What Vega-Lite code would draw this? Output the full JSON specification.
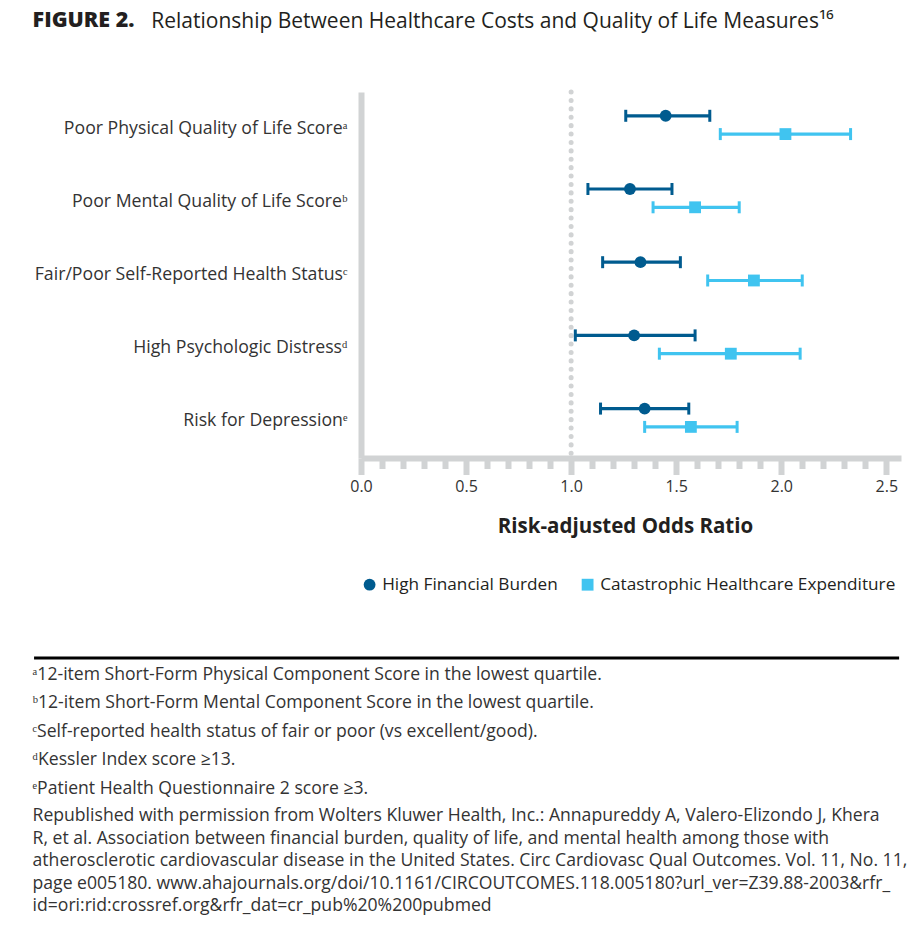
{
  "$schema": "https://vega.github.io/schema/vega-lite/v6.json",
  "background": "white",
  "padding": {"left": 32, "right": 5, "top": 10, "bottom": 5},
  "title": {"text": "FIGURE 2.", "anchor": "start", "frame": "bounds", "fontSize": 21.5, "fontWeight": 800, "color": "#231f20", "font": "Open Sans", "dy": 25},
  "spacing": 63,
  "resolve": {"legend": {"color": "independent", "shape": "independent"}},
  "vconcat": [
    {
      "width": 540,
      "height": 366,
      "title": {"text": "Relationship Between Healthcare Costs and Quality of Life Measures¹⁶", "anchor": "start", "frame": "bounds", "dx": 117, "fontSize": 21, "fontWeight": "normal", "color": "#231f20", "offset": 58, "limit": 900},
      "layer": [
        {
          "data": {"values": [{}]},
          "mark": {"type": "rule", "color": "#d1d3d4", "strokeWidth": 5, "strokeCap": "round", "strokeDash": [0.1, 8.3]},
          "encoding": {"x": {"datum": 1, "type": "quantitative", "title": "Risk-adjusted Odds Ratio",
            "scale": {"domain": [0, 2.57], "nice": false, "zero": false},
            "axis": {
              "values": [0,0.1,0.2,0.3,0.4,0.5,0.6,0.7,0.8,0.9,1,1.1,1.2,1.3,1.4,1.5,1.6,1.7,1.8,1.9,2,2.1,2.2,2.3,2.4,2.5], "tickCount": 26,
              "labelExpr": "abs(round(datum.value*2)-datum.value*2)<0.001 ? format(datum.value,'.1f') : ''",
              "labelOverlap": false, "labelFlush": false, "grid": false,
              "domainColor": "#d1d3d4", "domainWidth": 6,
              "tickColor": "#d1d3d4", "tickWidth": 6,
              "tickSize": {"condition": {"test": "abs(round(datum.value*2)-datum.value*2)<0.001", "value": 16.5}, "value": 10.5},
              "labelPadding": 4, "labelFontSize": 16, "labelColor": "#333333",
              "titleFontSize": 20.5, "titleFontWeight": "bold", "titleColor": "#231f20", "titlePadding": 22, "titleX": 264
            }}}
        },
        {
          "data": {"name": "est"},
          "layer": [
            {
              "mark": {"type": "rule", "strokeWidth": 3.2},
              "encoding": {
                "x": {"field": "lo", "type": "quantitative", "title": "Risk-adjusted Odds Ratio",
                  "scale": {"domain": [0, 2.57], "nice": false, "zero": false},
                  "axis": {
                    "values": [0,0.1,0.2,0.3,0.4,0.5,0.6,0.7,0.8,0.9,1,1.1,1.2,1.3,1.4,1.5,1.6,1.7,1.8,1.9,2,2.1,2.2,2.3,2.4,2.5], "tickCount": 26,
                    "labelExpr": "abs(round(datum.value*2)-datum.value*2)<0.001 ? format(datum.value,'.1f') : ''",
                    "labelOverlap": false, "labelFlush": false, "grid": false,
                    "domainColor": "#d1d3d4", "domainWidth": 6,
                    "tickColor": "#d1d3d4", "tickWidth": 6,
                    "tickSize": {"condition": {"test": "abs(round(datum.value*2)-datum.value*2)<0.001", "value": 16.5}, "value": 10.5},
                    "labelPadding": 4, "labelFontSize": 16, "labelColor": "#333333",
                    "titleFontSize": 20.5, "titleFontWeight": "bold", "titleColor": "#231f20", "titlePadding": 22, "titleX": 264
                  }},
                "x2": {"field": "hi"},
                "y": {"field": "measure", "type": "nominal", "title": null,
                  "sort": ["Poor Physical Quality of Life Scoreᵃ", "Poor Mental Quality of Life Scoreᵇ", "Fair/Poor Self-Reported Health Statusᶜ", "High Psychologic Distressᵈ", "Risk for Depressionᵉ"],
                  "scale": {"type": "band", "paddingInner": 0, "paddingOuter": 0},
                  "axis": {"domainColor": "#d1d3d4", "domainWidth": 6, "ticks": false, "tickSize": 0, "labelPadding": 14, "labelFontSize": 17.7, "labelColor": "#333333", "labelLimit": 400}},
                "yOffset": {"field": "series", "type": "nominal", "sort": ["High Financial Burden", "Catastrophic Healthcare Expenditure"], "scale": {"paddingInner": 0, "paddingOuter": 1.033, "align": 0.4}},
                "color": {"field": "series", "type": "nominal", "title": null, "sort": ["High Financial Burden", "Catastrophic Healthcare Expenditure"],
                  "scale": {"domain": ["High Financial Burden", "Catastrophic Healthcare Expenditure"], "range": ["#005b8f", "#40c4f0"]},
                  "legend": {"orient": "bottom", "direction": "horizontal", "title": null, "labelFontSize": 17.2, "labelColor": "#231f20", "labelLimit": 400, "symbolSize": 140, "columnPadding": 21, "labelOffset": 4, "offset": 39, "symbolOpacity": 1, "symbolStrokeWidth": 0}}
              }
            },
            {
              "mark": {"type": "tick", "orient": "vertical", "size": 12, "thickness": 3, "opacity": 1},
              "encoding": {
                "x": {"field": "lo", "type": "quantitative", "title": "Risk-adjusted Odds Ratio",
                  "axis": {
                    "values": [0,0.1,0.2,0.3,0.4,0.5,0.6,0.7,0.8,0.9,1,1.1,1.2,1.3,1.4,1.5,1.6,1.7,1.8,1.9,2,2.1,2.2,2.3,2.4,2.5], "tickCount": 26,
                    "labelExpr": "abs(round(datum.value*2)-datum.value*2)<0.001 ? format(datum.value,'.1f') : ''",
                    "labelOverlap": false, "labelFlush": false, "grid": false,
                    "domainColor": "#d1d3d4", "domainWidth": 6,
                    "tickColor": "#d1d3d4", "tickWidth": 6,
                    "tickSize": {"condition": {"test": "abs(round(datum.value*2)-datum.value*2)<0.001", "value": 16.5}, "value": 10.5},
                    "labelPadding": 4, "labelFontSize": 16, "labelColor": "#333333",
                    "titleFontSize": 20.5, "titleFontWeight": "bold", "titleColor": "#231f20", "titlePadding": 22, "titleX": 264
                  }},
                "y": {"field": "measure", "type": "nominal", "title": null,
                  "sort": ["Poor Physical Quality of Life Scoreᵃ", "Poor Mental Quality of Life Scoreᵇ", "Fair/Poor Self-Reported Health Statusᶜ", "High Psychologic Distressᵈ", "Risk for Depressionᵉ"]},
                "yOffset": {"field": "series", "type": "nominal", "sort": ["High Financial Burden", "Catastrophic Healthcare Expenditure"]},
                "color": {"field": "series", "type": "nominal", "title": null, "sort": ["High Financial Burden", "Catastrophic Healthcare Expenditure"]}
              }
            },
            {
              "mark": {"type": "tick", "orient": "vertical", "size": 12, "thickness": 3, "opacity": 1},
              "encoding": {
                "x": {"field": "hi", "type": "quantitative", "title": "Risk-adjusted Odds Ratio",
                  "axis": {
                    "values": [0,0.1,0.2,0.3,0.4,0.5,0.6,0.7,0.8,0.9,1,1.1,1.2,1.3,1.4,1.5,1.6,1.7,1.8,1.9,2,2.1,2.2,2.3,2.4,2.5], "tickCount": 26,
                    "labelExpr": "abs(round(datum.value*2)-datum.value*2)<0.001 ? format(datum.value,'.1f') : ''",
                    "labelOverlap": false, "labelFlush": false, "grid": false,
                    "domainColor": "#d1d3d4", "domainWidth": 6,
                    "tickColor": "#d1d3d4", "tickWidth": 6,
                    "tickSize": {"condition": {"test": "abs(round(datum.value*2)-datum.value*2)<0.001", "value": 16.5}, "value": 10.5},
                    "labelPadding": 4, "labelFontSize": 16, "labelColor": "#333333",
                    "titleFontSize": 20.5, "titleFontWeight": "bold", "titleColor": "#231f20", "titlePadding": 22, "titleX": 264
                  }},
                "y": {"field": "measure", "type": "nominal", "title": null,
                  "sort": ["Poor Physical Quality of Life Scoreᵃ", "Poor Mental Quality of Life Scoreᵇ", "Fair/Poor Self-Reported Health Statusᶜ", "High Psychologic Distressᵈ", "Risk for Depressionᵉ"]},
                "yOffset": {"field": "series", "type": "nominal", "sort": ["High Financial Burden", "Catastrophic Healthcare Expenditure"]},
                "color": {"field": "series", "type": "nominal", "title": null, "sort": ["High Financial Burden", "Catastrophic Healthcare Expenditure"]}
              }
            },
            {
              "mark": {"type": "point", "filled": true, "opacity": 1, "size": 140},
              "encoding": {
                "x": {"field": "or", "type": "quantitative", "title": "Risk-adjusted Odds Ratio",
                  "axis": {
                    "values": [0,0.1,0.2,0.3,0.4,0.5,0.6,0.7,0.8,0.9,1,1.1,1.2,1.3,1.4,1.5,1.6,1.7,1.8,1.9,2,2.1,2.2,2.3,2.4,2.5], "tickCount": 26,
                    "labelExpr": "abs(round(datum.value*2)-datum.value*2)<0.001 ? format(datum.value,'.1f') : ''",
                    "labelOverlap": false, "labelFlush": false, "grid": false,
                    "domainColor": "#d1d3d4", "domainWidth": 6,
                    "tickColor": "#d1d3d4", "tickWidth": 6,
                    "tickSize": {"condition": {"test": "abs(round(datum.value*2)-datum.value*2)<0.001", "value": 16.5}, "value": 10.5},
                    "labelPadding": 4, "labelFontSize": 16, "labelColor": "#333333",
                    "titleFontSize": 20.5, "titleFontWeight": "bold", "titleColor": "#231f20", "titlePadding": 22, "titleX": 264
                  }},
                "y": {"field": "measure", "type": "nominal", "title": null,
                  "sort": ["Poor Physical Quality of Life Scoreᵃ", "Poor Mental Quality of Life Scoreᵇ", "Fair/Poor Self-Reported Health Statusᶜ", "High Psychologic Distressᵈ", "Risk for Depressionᵉ"]},
                "yOffset": {"field": "series", "type": "nominal", "sort": ["High Financial Burden", "Catastrophic Healthcare Expenditure"]},
                "color": {"field": "series", "type": "nominal", "title": null, "sort": ["High Financial Burden", "Catastrophic Healthcare Expenditure"]},
                "shape": {"field": "series", "type": "nominal", "title": null, "sort": ["High Financial Burden", "Catastrophic Healthcare Expenditure"],
                  "scale": {"domain": ["High Financial Burden", "Catastrophic Healthcare Expenditure"], "range": ["circle", "square"]}}
              }
            }
          ]
        }
      ]
    },
    {
      "width": 540,
      "height": 1,
      "data": {"values": [{}]},
      "mark": {"type": "rule", "color": "#000000", "strokeWidth": 3},
      "encoding": {
        "x": {"datum": -1.556, "type": "quantitative", "scale": {"domain": [0, 2.57], "nice": false, "zero": false}, "axis": null},
        "x2": {"datum": 2.561},
        "y": {"datum": 1, "type": "quantitative", "scale": {"domain": [0, 1]}, "axis": null}
      },
      "title": {
        "text": ["ᵃ12-item Short-Form Physical Component Score in the lowest quartile.", "ᵇ12-item Short-Form Mental Component Score in the lowest quartile.", "ᶜSelf-reported health status of fair or poor (vs excellent/good).", "ᵈKessler Index score ≥13.", "ᵉPatient Health Questionnaire 2 score ≥3."],
        "subtitle": ["Republished with permission from Wolters Kluwer Health, Inc.: Annapureddy A, Valero-Elizondo J, Khera", "R, et al. Association between financial burden, quality of life, and mental health among those with", "atherosclerotic cardiovascular disease in the United States. Circ Cardiovasc Qual Outcomes. Vol. 11, No. 11,", "page e005180. www.ahajournals.org/doi/10.1161/CIRCOUTCOMES.118.005180?url_ver=Z39.88-2003&rfr_", "id=ori:rid:crossref.org&rfr_dat=cr_pub%20%200pubmed"],
        "orient": "bottom", "anchor": "start", "frame": "bounds", "limit": 900,
        "fontSize": 17.6, "fontWeight": "normal", "lineHeight": 28.5, "color": "#333333",
        "subtitleFontSize": 17.6, "subtitleLineHeight": 22.5, "subtitleColor": "#333333", "subtitlePadding": 10, "offset": 6
      }
    }
  ],
  "datasets": {
    "est": [
      {"measure": "Poor Physical Quality of Life Scoreᵃ", "series": "High Financial Burden", "or": 1.45, "lo": 1.26, "hi": 1.66},
      {"measure": "Poor Physical Quality of Life Scoreᵃ", "series": "Catastrophic Healthcare Expenditure", "or": 2.02, "lo": 1.71, "hi": 2.33},
      {"measure": "Poor Mental Quality of Life Scoreᵇ", "series": "High Financial Burden", "or": 1.28, "lo": 1.08, "hi": 1.48},
      {"measure": "Poor Mental Quality of Life Scoreᵇ", "series": "Catastrophic Healthcare Expenditure", "or": 1.59, "lo": 1.39, "hi": 1.80},
      {"measure": "Fair/Poor Self-Reported Health Statusᶜ", "series": "High Financial Burden", "or": 1.33, "lo": 1.15, "hi": 1.52},
      {"measure": "Fair/Poor Self-Reported Health Statusᶜ", "series": "Catastrophic Healthcare Expenditure", "or": 1.87, "lo": 1.65, "hi": 2.10},
      {"measure": "High Psychologic Distressᵈ", "series": "High Financial Burden", "or": 1.30, "lo": 1.02, "hi": 1.59},
      {"measure": "High Psychologic Distressᵈ", "series": "Catastrophic Healthcare Expenditure", "or": 1.76, "lo": 1.42, "hi": 2.09},
      {"measure": "Risk for Depressionᵉ", "series": "High Financial Burden", "or": 1.35, "lo": 1.14, "hi": 1.56},
      {"measure": "Risk for Depressionᵉ", "series": "Catastrophic Healthcare Expenditure", "or": 1.57, "lo": 1.35, "hi": 1.79}
    ]
  },
  "config": {
    "font": "Open Sans",
    "view": {"stroke": null},
    "title": {"font": "Open Sans", "subtitleFont": "Open Sans"}
  }
}
